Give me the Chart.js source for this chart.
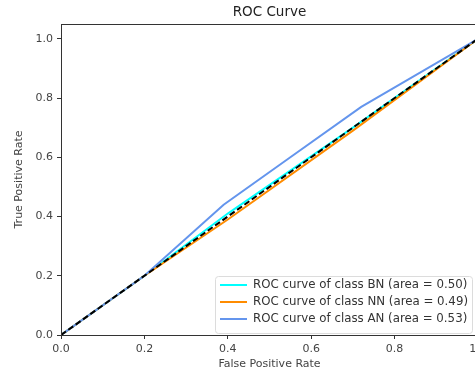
<!DOCTYPE html>
<html>
<head>
<meta charset="utf-8">
<script src="https://cdn.jsdelivr.net/npm/chart.js@4"></script>
<style>
  html, body { margin: 0; padding: 0; background: #fff; overflow: hidden; }
  #wrap { width: 482px; height: 374px; }
</style>
</head>
<body>
<div id="wrap"><canvas id="roc"></canvas></div>
<script>
// values
const fprBN = [0, 0.2, 0.4, 0.7, 1];
const tprBN = [0, 0.2, 0.41, 0.70, 1];
const fprNN = [0, 0.2, 0.4, 0.7, 1];
const tprNN = [0, 0.2, 0.39, 0.69, 1];
const fprAN = [0, 0.2, 0.39, 0.55, 0.72, 1];
const tprAN = [0, 0.2, 0.44, 0.60, 0.77, 1];
const diagX = [0, 1];
const diagY = [0, 1];
const classNames = ['BN', 'NN', 'AN'];
const areas = ['0.50', '0.49', '0.53'];
const lineColors = ['#00ffff', '#ff8c00', '#6495ed'];

const pts = (xs, ys) => xs.map((x, i) => ({ x: x, y: ys[i] }));

const FONT = 'DejaVu Sans';

// matplotlib-like frame, title and legend
const decor = {
    id: 'decor',
    afterDraw(chart) {
        const ctx = chart.ctx;
        const a = chart.chartArea;
        ctx.save();
        ctx.strokeStyle = '#333';
        ctx.lineWidth = 1;
        ctx.strokeRect(a.left + 0.5, a.top + 0.5, a.right - a.left, a.bottom - a.top);

        ctx.fillStyle = '#222';
        ctx.font = '13.5px "' + FONT + '"';
        ctx.textAlign = 'center';
        ctx.textBaseline = 'middle';
        ctx.fillText('ROC Curve', (a.left + a.right) / 2, 12);

        // legend box, lower right
        const bx = 215, by = 276, bw = 257, bh = 57;
        ctx.beginPath();
        ctx.roundRect(bx + 0.5, by + 0.5, bw, bh, 3);
        ctx.fillStyle = 'rgba(255,255,255,0.85)';
        ctx.fill();
        ctx.strokeStyle = '#dcdcdc';
        ctx.stroke();
        ctx.font = '11.8px "' + FONT + '"';
        ctx.textAlign = 'left';
        classNames.forEach((c, i) => {
            const yy = by + 9 + i * 17;
            ctx.strokeStyle = lineColors[i];
            ctx.lineWidth = 2;
            ctx.beginPath();
            ctx.moveTo(bx + 5, yy);
            ctx.lineTo(bx + 32, yy);
            ctx.stroke();
            ctx.fillStyle = '#333';
            ctx.fillText('ROC curve of class ' + c + ' (area = ' + areas[i] + ')', bx + 38, yy);
        });
        ctx.restore();
    }
};

new Chart(document.getElementById('roc'), {
    type: 'scatter',
    data: {
        datasets: [
            { label: 'chance', data: pts(diagX, diagY), borderColor: '#000', borderDash: [6, 3], borderWidth: 2 },
            { label: classNames[2], data: pts(fprAN, tprAN), borderColor: lineColors[2], borderWidth: 2 },
            { label: classNames[1], data: pts(fprNN, tprNN), borderColor: lineColors[1], borderWidth: 2 },
            { label: classNames[0], data: pts(fprBN, tprBN), borderColor: lineColors[0], borderWidth: 2 }
        ]
    },
    options: {
        responsive: true,
        maintainAspectRatio: false,
        animation: false,
        showLine: true,
        elements: { point: { radius: 0 }, line: { tension: 0 } },
        layout: { padding: { top: 24, right: 4, left: 0, bottom: 0 } },
        plugins: {
            legend: { display: false },
            tooltip: { enabled: false }
        },
        scales: {
            x: {
                type: 'linear',
                min: 0,
                max: 1,
                afterFit: s => { s.height = 39; s.paddingRight = 0; s.paddingLeft = 0; },
                grid: { drawOnChartArea: false, tickLength: 4, color: '#333' },
                border: { color: '#333' },
                ticks: {
                    stepSize: 0.2,
                    padding: 4,
                    color: '#444',
                    font: { family: FONT, size: 11 },
                    callback: v => v.toFixed(1)
                },
                title: { display: true, text: 'False Positive Rate', color: '#444', padding: { top: 3, bottom: 3 }, font: { family: FONT, size: 11 } }
            },
            y: {
                type: 'linear',
                min: 0,
                max: 1.05,
                afterFit: s => { s.width = 61; },
                afterBuildTicks: s => { s.ticks = s.ticks.filter(t => t.value <= 1.0001); },
                grid: { drawOnChartArea: false, tickLength: 4, color: '#333' },
                border: { color: '#333' },
                ticks: {
                    stepSize: 0.2,
                    padding: 4,
                    color: '#444',
                    font: { family: FONT, size: 11 },
                    callback: v => v.toFixed(1)
                },
                title: { display: true, text: 'True Positive Rate', color: '#444', padding: { top: 13, bottom: 0 }, font: { family: FONT, size: 11 } }
            }
        }
    },
    plugins: [decor]
});
</script>
</body>
</html>
